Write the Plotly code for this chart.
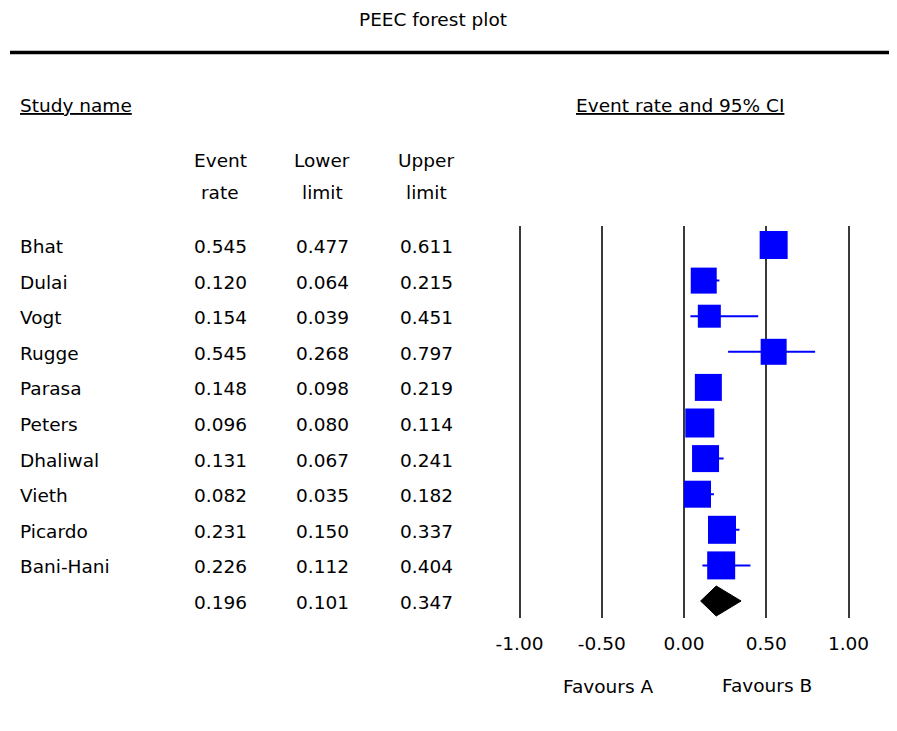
import plotly.graph_objects as go

# ---------------- data ----------------
studies = ["Bhat", "Dulai", "Vogt", "Rugge", "Parasa", "Peters",
           "Dhaliwal", "Vieth", "Picardo", "Bani-Hani"]
event_rate = [0.545, 0.120, 0.154, 0.545, 0.148, 0.096, 0.131, 0.082, 0.231, 0.226]
lower_limit = [0.477, 0.064, 0.039, 0.268, 0.098, 0.080, 0.067, 0.035, 0.150, 0.112]
upper_limit = [0.611, 0.215, 0.451, 0.797, 0.219, 0.114, 0.241, 0.182, 0.337, 0.404]
summary_rate = 0.196
summary_lower = 0.101
summary_upper = 0.347
tick_values = [-1.0, -0.5, 0.0, 0.5, 1.0]
tick_labels = ["-1.00", "-0.50", "0.00", "0.50", "1.00"]

# ---------------- styling ----------------
W, H = 897, 731
OFF = 8  # page body margin
FONT = "DejaVu Sans, Liberation Sans, Arial, sans-serif"
FS = 18.5
square_sizes = [28, 26, 23, 26, 27, 29, 27, 27, 28, 28]
BLUE = "#0000FF"

def px(x):
    return (x - OFF) / W

def py(y):
    return 1 - (y - OFF) / H

row0_px, row_step = 245.0, 35.6
plot_top, plot_bottom = 226.0, 618.0
rows = list(range(len(studies)))
summary_row = len(studies)
y_top = (plot_top - row0_px) / row_step
y_bot = (plot_bottom - row0_px) / row_step

x_lo, x_hi = -1.02, 1.02
unit_px = (849 - 520) / 2.0
dom_l = 684 + x_lo * unit_px
dom_r = 684 + x_hi * unit_px

fig = go.Figure()

fig.add_trace(go.Scatter(
    x=event_rate, y=rows, mode="markers",
    marker=dict(symbol="square", size=square_sizes, color=BLUE, opacity=1, line=dict(width=0)),
    error_x=dict(type="data", symmetric=False,
                 array=[u - e for u, e in zip(upper_limit, event_rate)],
                 arrayminus=[e - l for e, l in zip(event_rate, lower_limit)],
                 color=BLUE, thickness=2, width=0),
    hoverinfo="skip", showlegend=False, cliponaxis=False,
))

half_h = 15.0 / row_step
fig.add_trace(go.Scatter(
    x=[summary_lower, summary_rate, summary_upper, summary_rate, summary_lower],
    y=[summary_row, summary_row - half_h, summary_row, summary_row + half_h, summary_row],
    mode="lines", fill="toself", fillcolor="black",
    line=dict(color="black", width=1),
    hoverinfo="skip", showlegend=False,
))

ann = []
def add_text(text, x, y, xanchor="center", yref="paper", yshift=0):
    ann.append(dict(text=text, x=x, y=y, xref="paper", yref=yref,
                    xanchor=xanchor, yanchor="middle", showarrow=False, yshift=yshift,
                    font=dict(family=FONT, size=FS, color="black")))

add_text("PEEC forest plot", px(433), py(19.5))
add_text("<u>Study name</u>", px(18), py(106), xanchor="left")
add_text("<u>Event rate and 95% CI</u>", px(680), py(106))
col_x = [220, 322, 426]
add_text("Event", px(col_x[0]), py(160))
add_text("rate", px(col_x[0]), py(192))
add_text("Lower", px(col_x[1]), py(160))
add_text("limit", px(col_x[1]), py(192))
add_text("Upper", px(col_x[2]), py(160))
add_text("limit", px(col_x[2]), py(192))

for i, name in enumerate(studies):
    add_text(name, px(18), i, xanchor="left", yref="y", yshift=-1.5)
    add_text(f"{event_rate[i]:.3f}", px(col_x[0]), i, yref="y", yshift=-1.5)
    add_text(f"{lower_limit[i]:.3f}", px(col_x[1]), i, yref="y", yshift=-1.5)
    add_text(f"{upper_limit[i]:.3f}", px(col_x[2]), i, yref="y", yshift=-1.5)
add_text(f"{summary_rate:.3f}", px(col_x[0]), summary_row, yref="y", yshift=-1)
add_text(f"{summary_lower:.3f}", px(col_x[1]), summary_row, yref="y", yshift=-1)
add_text(f"{summary_upper:.3f}", px(col_x[2]), summary_row, yref="y", yshift=-1)

add_text("Favours A", px(608), py(686))
add_text("Favours B", px(767), py(685))

shapes = [dict(type="line", xref="paper", yref="paper",
               x0=px(10), x1=px(894), y0=py(52.5), y1=py(52.5),
               line=dict(color="black", width=3.5))]

fig.update_layout(
    width=W, height=H, autosize=False,
    margin=dict(l=0, r=0, t=0, b=0, pad=0, autoexpand=False),
    paper_bgcolor="white", plot_bgcolor="white",
    annotations=ann,
    shapes=shapes,
    xaxis=dict(domain=[px(dom_l), px(dom_r)], range=[x_lo, x_hi],
               tickmode="array", tickvals=tick_values, ticktext=tick_labels,
               showgrid=True, gridcolor="#3a3a3a", gridwidth=2,
               zeroline=False, showline=False, ticks="", automargin=False,
               ticklabelstandoff=12,
               tickfont=dict(family=FONT, size=FS, color="black"),
               fixedrange=True),
    yaxis=dict(domain=[py(plot_bottom), py(plot_top)], range=[y_bot, y_top],
               showgrid=False, zeroline=False, showline=False, automargin=False,
               showticklabels=False, ticks="", fixedrange=True),
    showlegend=False,
)

fig.write_html("out.html")
